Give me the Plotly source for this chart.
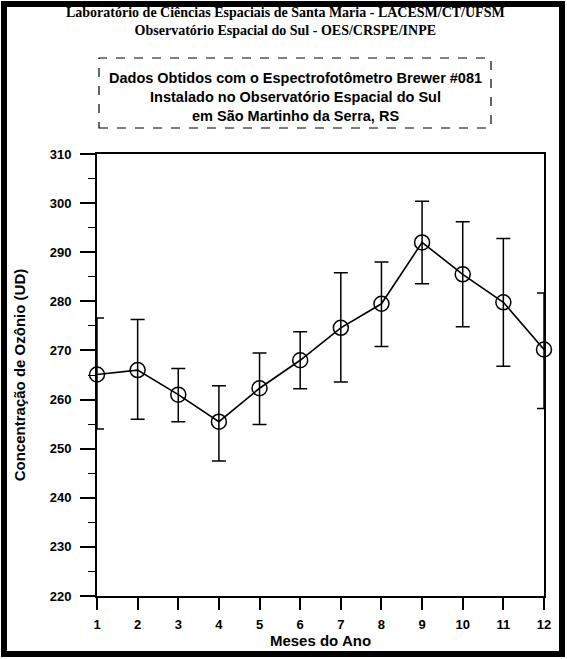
import plotly.graph_objects as go

months = [1, 2, 3, 4, 5, 6, 7, 8, 9, 10, 11, 12]
month_labels = ["1", "2", "3", "4", "5", "6", "7", "8", "9", "10", "11", "12"]
ozone = [265.1, 266.0, 261.0, 255.5, 262.3, 268.0, 274.6, 279.5, 292.0, 285.5, 279.8, 270.2]
err_plus = [11.5, 10.3, 5.3, 7.3, 7.2, 5.8, 11.2, 8.5, 8.4, 10.7, 13.0, 11.5]
err_minus = [11.1, 10.0, 5.5, 8.0, 7.4, 5.8, 11.0, 8.7, 8.4, 10.7, 13.0, 12.0]
y_ticks = [220, 230, 240, 250, 260, 270, 280, 290, 300, 310]

title_lines = [
    "Laboratório de Ciências Espaciais de Santa Maria - LACESM/CT/UFSM",
    "Observatório Espacial do Sul - OES/CRSPE/INPE",
]
box_lines = [
    "Dados Obtidos com o Espectrofotômetro Brewer #081",
    "Instalado no Observatório Espacial do Sul",
    "em São Martinho da Serra, RS",
]

fig = go.Figure()
fig.add_trace(go.Scatter(
    x=months, y=ozone, mode="lines+markers",
    line=dict(color="black", width=1.6),
    marker=dict(symbol="circle-open", size=15, color="black", line=dict(width=1.5)),
    error_y=dict(type="data", symmetric=False, array=err_plus, arrayminus=err_minus,
                 color="black", thickness=1.5, width=7),
    cliponaxis=False, showlegend=False, hoverinfo="skip",
))

W, H = 567, 659
L, R, T, B = 97, 23, 154, 63
pw, ph = W - L - R, H - T - B

def px(x):
    return (x - L) / pw

def py(y):
    return (H - B - y) / ph

fig.update_layout(
    width=W, height=H,
    margin=dict(l=L, r=R, t=T, b=B),
    paper_bgcolor="white", plot_bgcolor="white",
    font=dict(family="Liberation Sans, Arial", color="black"),
    xaxis=dict(range=[1, 12], tickvals=months, ticktext=month_labels,
               showline=True, linecolor="black", linewidth=2, mirror=True,
               ticks="outside", ticklen=12, tickwidth=1.5, tickcolor="black",
               showgrid=False, zeroline=False, ticklabelstandoff=3,
               tickfont=dict(size=13, family="Liberation Sans, Arial", weight="bold"),
               title=dict(text="<b>Meses do Ano</b>", font=dict(size=15), standoff=2)),
    yaxis=dict(range=[220, 310], tickvals=y_ticks,
               showline=True, linecolor="black", linewidth=2, mirror=True,
               ticks="outside", ticklen=15, tickwidth=2, tickcolor="black",
               minor=dict(dtick=5, ticks="outside", ticklen=7, tickwidth=1, tickcolor="black"),
               showgrid=False, zeroline=False, ticklabelstandoff=6,
               tickfont=dict(size=13, family="Liberation Sans, Arial", weight="bold"),
               title=dict(text="<b>Concentração de Ozônio (UD)</b>", font=dict(size=15), standoff=20)),
)

shapes = [
    dict(type="rect", xref="paper", yref="paper",
         x0=px(4), x1=px(562), y0=py(654), y1=py(4),
         line=dict(color="black", width=6)),
    dict(type="rect", xref="paper", yref="paper",
         x0=px(99), x1=px(491), y0=py(128), y1=py(58),
         line=dict(color="black", width=1.2, dash="dash")),
]
fig.update_layout(shapes=shapes)

ann = [
    dict(text="<b>" + "<br>".join(title_lines) + "</b>", xref="paper", yref="paper",
         x=px(285), y=py(22), showarrow=False, xanchor="center", yanchor="middle",
         font=dict(family="Liberation Serif, Times New Roman", size=14, color="black")),
    dict(text="<b>" + "<br>".join(box_lines) + "</b>", xref="paper", yref="paper",
         x=px(295), y=py(97), showarrow=False, xanchor="center", yanchor="middle",
         font=dict(family="Liberation Sans, Arial", size=14.5, color="black")),
]
fig.update_layout(annotations=ann)

fig.write_html("out.html", config={"displayModeBar": False},
               post_script="document.body.style.margin='0';document.body.style.overflow='hidden';")
